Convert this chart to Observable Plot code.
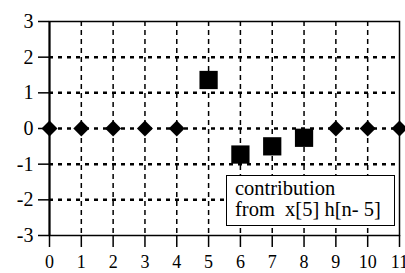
<!DOCTYPE html>
<html>
<head>
<meta charset="utf-8">
<script src="https://cdn.jsdelivr.net/npm/d3@7"></script>
<script src="https://cdn.jsdelivr.net/npm/@observablehq/plot@0.6"></script>
<style>
  html, body { margin: 0; padding: 0; background: #fff; }
  #wrap { position: relative; width: 405px; height: 273px; overflow: hidden; }
  #legend {
    position: absolute; left: 226px; top: 175px; width: 159px; height: 49px;
    border: 1.5px solid #000; background: #fff;
    font-family: "Liberation Serif", "Times New Roman", serif; font-size: 20.5px;
    line-height: 21px; padding: 0 0 0 8px; box-sizing: content-box; white-space: pre;
    color: #000;
  }
  #legend div:first-child { margin-top: 2px; }
</style>
</head>
<body>
<div id="wrap"></div>
<script>
const nZero = [0, 1, 2, 3, 4, 9, 10, 11];
const valZero = [0, 0, 0, 0, 0, 0, 0, 0];
const nContrib = [5, 6, 7, 8];
const valContrib = [1.36, -0.73, -0.5, -0.26];
const xTicks = [0, 1, 2, 3, 4, 5, 6, 7, 8, 9, 10, 11];
const yTicks = [-3, -2, -1, 0, 1, 2, 3];
const xGrid = [1, 2, 3, 4, 5, 6, 7, 8, 9, 10];
const yGrid = [-2, -1, 0, 1, 2];
const legendLines = ["contribution", "from  x[5] h[n- 5]"];

const zeros = nZero.map((n, i) => ({n, v: valZero[i]}));
const contrib = nContrib.map((n, i) => ({n, v: valContrib[i]}));
const font = '"Liberation Serif", "Times New Roman", serif';

const chart = Plot.plot({
  width: 405, height: 273,
  marginLeft: 49, marginRight: 6, marginTop: 21, marginBottom: 38,
  style: {fontFamily: font, fontSize: "20px", color: "#000", background: "#fff", overflow: "hidden"},
  x: {domain: [0, 11]},
  y: {domain: [-3, 3]},
  marks: [
    Plot.ruleX(xGrid, {stroke: "#000", strokeWidth: 1.5, strokeDasharray: "5,4"}),
    Plot.ruleY(yGrid, {stroke: "#000", strokeWidth: 2.5, strokeDasharray: "4,5"}),
    Plot.frame({stroke: "#000", strokeWidth: 1.5}),
    Plot.ruleX([0], {stroke: "#000", strokeWidth: 2}),
    Plot.axisX({ticks: xTicks, tickSize: 12, tickPadding: 8, tickFormat: d => String(d), fontSize: 18, fontFamily: font, stroke: "#000", strokeWidth: 1.5, label: null}),
    Plot.axisY({ticks: yTicks, tickSize: 11, tickPadding: 5, tickFormat: d => String(d), fontSize: 20, fontFamily: font, stroke: "#000", strokeWidth: 1.5, label: null}),
    Plot.dot(zeros, {x: "n", y: "v", symbol: "diamond2", r: 7.2, fill: "#000", stroke: "none"}),
    Plot.dot(contrib, {x: "n", y: "v", symbol: "square", r: 10.3, fill: "#000", stroke: "none"})
  ]
});

const wrap = document.getElementById("wrap");
wrap.appendChild(chart);
const lg = document.createElement("div");
lg.id = "legend";
legendLines.forEach(t => { const d = document.createElement("div"); d.textContent = t; lg.appendChild(d); });
wrap.appendChild(lg);
</script>
</body>
</html>
